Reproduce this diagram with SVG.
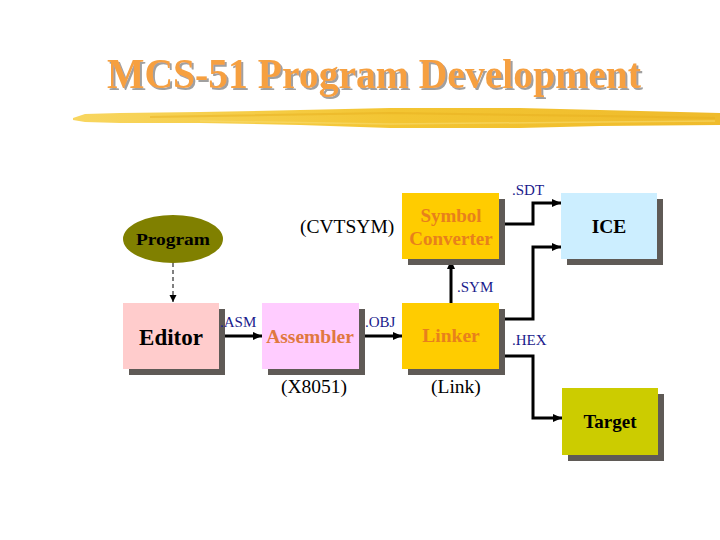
<svg xmlns="http://www.w3.org/2000/svg" width="720" height="540" viewBox="0 0 720 540">
<style>
.t{font-family:"Liberation Serif","Times New Roman",serif;font-weight:bold;text-anchor:middle}
.lbl{font-family:"Liberation Serif","Times New Roman",serif;font-size:15px;fill:#1a1a8c}
.par{font-family:"Liberation Serif","Times New Roman",serif;font-size:19.5px;fill:#000}
.sh{fill:#5f5a56}
.con{fill:none;stroke:#000;stroke-width:3}
</style>
<defs>
<marker id="ah" markerWidth="10" markerHeight="10" refX="9" refY="5" orient="auto" markerUnits="userSpaceOnUse">
<path d="M0,1 L9,5 L0,9 Z" fill="#000"/>
</marker>
<marker id="ahs" markerWidth="8" markerHeight="8" refX="7" refY="4" orient="auto" markerUnits="userSpaceOnUse">
<path d="M0,0.5 L7,4 L0,7.5 Z" fill="#000"/>
</marker>
<linearGradient id="brush" x1="0" y1="0" x2="1" y2="0">
<stop offset="0" stop-color="#f8d660"/>
<stop offset="0.5" stop-color="#f3c532"/>
<stop offset="1" stop-color="#efbb2c"/>
</linearGradient>
<filter id="tsh" x="-5%" y="-20%" width="110%" height="140%">
<feDropShadow dx="2" dy="2" stdDeviation="0.3" flood-color="#a0a0a0" flood-opacity="1"/>
</filter>
</defs>
<rect width="720" height="540" fill="#fff"/>

<g id="title">
<text x="107" y="88" class="t" style="text-anchor:start;font-size:42px;fill:#f6a040" filter="url(#tsh)" textLength="534" lengthAdjust="spacingAndGlyphs">MCS-51 Program Development</text>
</g>
<g id="brush-stroke">
<path d="M73,118 L85,114 L120,113 L200,112 L300,110 L390,108 L520,108 L600,110 L720,113 L720,125 L600,126 L520,128 L390,128 L300,125 L200,123 L120,123 L85,122 L73,120 Z" fill="url(#brush)"/>
<path d="M150,117 L390,113 L600,116 L715,118" fill="none" stroke="#e8b020" stroke-width="2" opacity="0.5"/>
<path d="M200,121 L390,124 L600,122 L715,121" fill="none" stroke="#f8dc70" stroke-width="1.5" opacity="0.6"/>
</g>

<g id="connectors">
<line x1="173" y1="263" x2="173" y2="302" stroke="#000" stroke-width="1" stroke-dasharray="4,3" marker-end="url(#ahs)"/>
<line x1="219" y1="336" x2="262" y2="336" class="con" marker-end="url(#ah)"/>
<line x1="359" y1="336" x2="402" y2="336" class="con" marker-end="url(#ah)"/>
<line x1="451" y1="303" x2="451" y2="260" class="con" marker-end="url(#ah)"/>
<polyline points="499,224 533,224 533,203 561,203" class="con" marker-end="url(#ah)"/>
<polyline points="499,319 533,319 533,247 561,247" class="con" marker-end="url(#ah)"/>
<polyline points="499,356 533,356 533,418 562,418" class="con" marker-end="url(#ah)"/>
</g>

<g id="program">
<ellipse cx="173" cy="239" rx="50" ry="24" fill="#808000"/>
<text x="173" y="245" class="t" style="font-size:17px" textLength="74" lengthAdjust="spacingAndGlyphs">Program</text>
</g>

<g id="editor">
<rect x="129" y="309" width="96" height="66" class="sh"/>
<rect x="123" y="303" width="96" height="66" fill="#ffcccc"/>
<text x="171" y="345" class="t" style="font-size:23px">Editor</text>
</g>

<g id="assembler">
<rect x="268" y="309" width="97" height="66" class="sh"/>
<rect x="262" y="303" width="97" height="66" fill="#ffccff"/>
<text x="310" y="343" class="t" style="font-size:19.5px;fill:#e07840">Assembler</text>
</g>

<g id="linker">
<rect x="408" y="309" width="97" height="66" class="sh"/>
<rect x="402" y="303" width="97" height="66" fill="#ffcc00"/>
<text x="451" y="342" class="t" style="font-size:19.5px;fill:#e8801c">Linker</text>
</g>

<g id="symbol-converter">
<rect x="408" y="199" width="97" height="66" class="sh"/>
<rect x="402" y="193" width="97" height="66" fill="#ffcc00"/>
<text x="451" y="222" class="t" style="font-size:19px;fill:#e8801c">Symbol</text>
<text x="451" y="245" class="t" style="font-size:19px;fill:#e8801c">Converter</text>
</g>

<g id="ice">
<rect x="567" y="199" width="96" height="66" class="sh"/>
<rect x="561" y="193" width="96" height="66" fill="#cceeff"/>
<text x="609" y="233" class="t" style="font-size:19.5px">ICE</text>
</g>

<g id="target">
<rect x="568" y="394" width="96" height="67" class="sh"/>
<rect x="562" y="388" width="96" height="67" fill="#cccc00"/>
<text x="610" y="428" class="t" style="font-size:19px">Target</text>
</g>

<g id="labels">
<text x="220" y="327" class="lbl">.ASM</text>
<text x="365" y="327" class="lbl">.OBJ</text>
<text x="512" y="195" class="lbl">.SDT</text>
<text x="457" y="292" class="lbl">.SYM</text>
<text x="512" y="345" class="lbl">.HEX</text>
<text x="300" y="233" class="par">(CVTSYM)</text>
<text x="281" y="393" class="par">(X8051)</text>
<text x="431" y="393" class="par">(Link)</text>
</g>
</svg>
